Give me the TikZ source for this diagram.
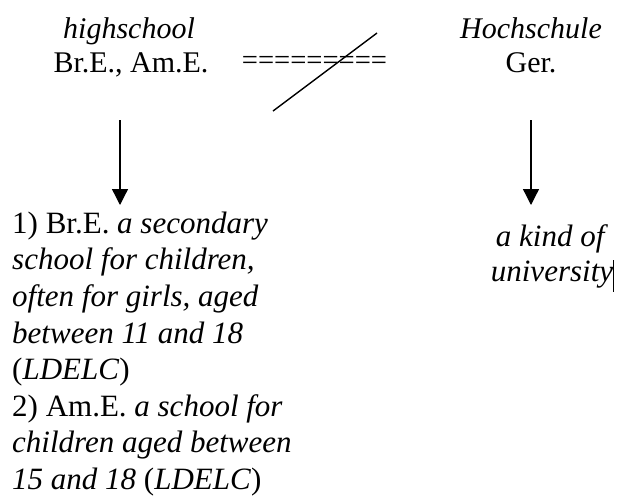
\documentclass[tikz,border=0pt]{standalone}
\usepackage{fontspec}
\setmainfont{Liberation Serif}
\usetikzlibrary{arrows.meta}
\begin{document}
\begin{tikzpicture}[x=1pt,y=-1pt,
  hd/.style={inner sep=0pt, anchor=base, font=\fontsize{30}{34}\selectfont},
  body/.style={inner sep=0pt, align=left, anchor=north west, font=\fontsize{31}{36.6}\selectfont},
  gloss/.style={inner sep=0pt, align=center, anchor=north, font=\fontsize{31}{35}\selectfont},
  down/.style={line width=1.3pt, -{Triangle[width=16pt,length=16pt]}}]
\useasboundingbox (0,0) rectangle (619,496);
\fill[white] (0,0) rectangle (619,496);

% headwords
\node[hd] (hs)   at (129,38) {\textit{highschool}};
\node[hd] (bram) at (131,72) {Br.E., Am.E.};
\node[hd] (hoch) at (531,38) {\textit{Hochschule}};
\node[hd] (ger)  at (531,72) {Ger.};

% crossed-out equality
\node[hd, font=\fontsize{28.6}{34}\selectfont] (neq) at (314.5,69) {=========};
\coordinate (slo) at (273,111);
\coordinate (shi) at (377,33);
\draw[line width=1.4pt] (slo) -- (shi);

% arrows down to the meanings
\coordinate (la) at (120,120);
\coordinate (lb) at (120,205);
\coordinate (ra) at (531,120);
\coordinate (rb) at (531,205);
\draw[down] (la) -- (lb);
\draw[down] (ra) -- (rb);

% meanings
\node[body] (defen) at (12,211.5) {%
1) Br.E. \textit{a secondary}\\
\textit{school for children,}\\
\textit{often for girls, aged}\\
\textit{between 11 and 18}\\
(\textit{LDELC})\\
2) Am.E. \textit{a school for}\\
\textit{children aged between}\\
\textit{15 and 18} (\textit{LDELC})};
\node[gloss] (defde) at (552,224) {%
\textit{a kind of}\\
\textit{university}};
\coordinate (cur) at (613.5,260);
\draw[line width=1.2pt] (cur) -- ++(0,32);
\end{tikzpicture}
\end{document}
